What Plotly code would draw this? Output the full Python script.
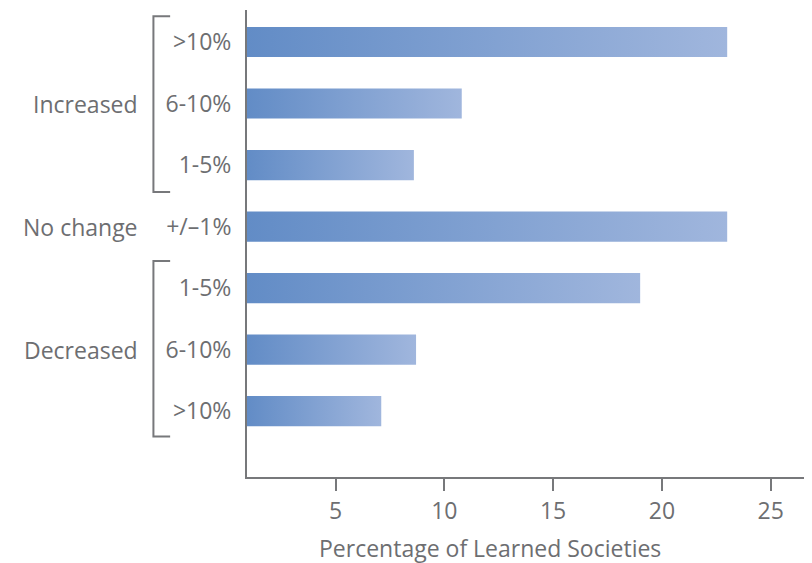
import plotly.graph_objects as go

# ---- data ----
tick_labels = [">10%", "6-10%", "1-5%", "+/\u20131%", "1-5%", "6-10%", ">10%"]
values = [23.0, 10.8, 8.6, 23.0, 19.0, 8.7, 7.1]
groups = ["Increased", "No change", "Decreased"]
group_centers = [1, 3, 5]
x_ticks = [5, 10, 15, 20, 25]
x_title = "Percentage of Learned Societies"

# ---- style ----
FONT = "Open Sans"
FS = 23
TXT = "#6d6e71"
AXC = "#77787b"
C_LEFT = "#628cc6"
C_RIGHT = "#a0b6dd"
XMIN, XMAX = 0.93, 26.53
HALF = 0.245

fig = go.Figure()
for i, v in enumerate(values):
    fig.add_trace(go.Scatter(
        x=[0, v, v, 0, 0],
        y=[i - HALF, i - HALF, i + HALF, i + HALF, i - HALF],
        mode="lines", line=dict(width=0),
        fill="toself",
        fillgradient=dict(type="horizontal", start=XMIN, stop=v,
                          colorscale=[[0, C_LEFT], [1, C_RIGHT]]),
        hoverinfo="skip", showlegend=False,
    ))

fig.update_xaxes(
    range=[XMIN, XMAX], tickvals=x_ticks, ticks="outside", ticklen=12,
    tickwidth=2, tickcolor=AXC, showline=True, linecolor=AXC, linewidth=2,
    showgrid=False, zeroline=False,
    tickfont=dict(family=FONT, size=FS, color=TXT), ticklabelstandoff=0,
)
fig.update_yaxes(
    range=[7.07, -0.52], tickvals=list(range(len(tick_labels))), ticktext=tick_labels,
    ticks="", showline=True, linecolor=AXC, linewidth=2, showgrid=False,
    zeroline=False, tickfont=dict(family=FONT, size=FS, color=TXT),
    ticklabelstandoff=9,
)

for g, c in zip(groups, group_centers):
    fig.add_annotation(text=g, x=-0.192, xref="paper", y=c, yref="y",
                       xanchor="right", yanchor="middle", showarrow=False,
                       font=dict(family=FONT, size=FS, color=TXT))

fig.add_annotation(text=x_title, x=0.436, xref="paper", y=-0.152, yref="paper",
                   xanchor="center", yanchor="middle", showarrow=False,
                   font=dict(family=FONT, size=FS, color=TXT))

bx, barm = -0.168, -0.138
for y0, y1 in [(-0.42, 2.44), (3.56, 6.41)]:
    path = f"M {barm},{y0} L {bx},{y0} L {bx},{y1} L {barm},{y1}"
    fig.add_shape(type="path", path=path, xref="paper", yref="y",
                  line=dict(color=AXC, width=2))

fig.update_layout(
    width=812, height=563,
    margin=dict(l=239, r=16, t=2, b=94),
    plot_bgcolor="white", paper_bgcolor="white",
)

fig.write_html("out.html")
